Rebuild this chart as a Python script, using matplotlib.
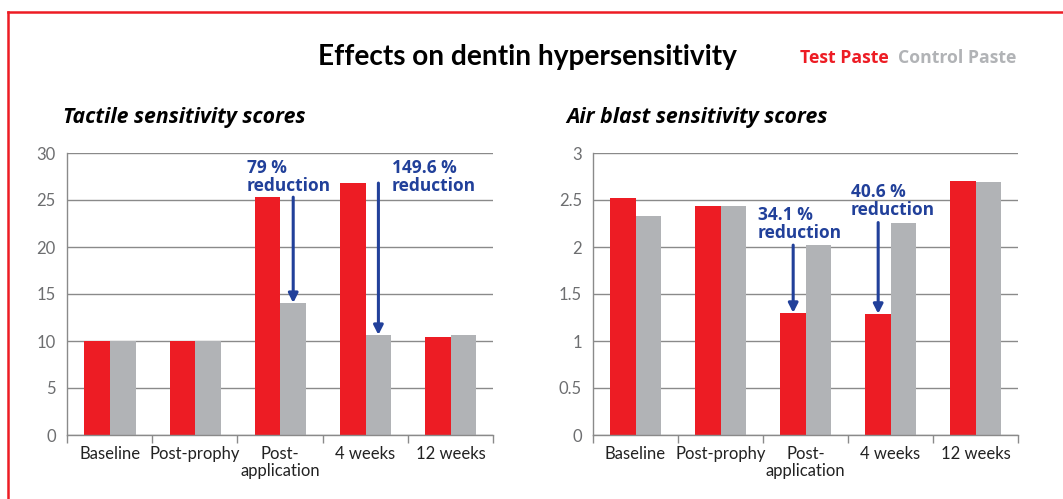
import matplotlib
matplotlib.use("Agg")
import matplotlib.pyplot as plt
import numpy as np
from matplotlib.lines import Line2D

categories = ["Baseline", "Post-prophy", "Post-\napplication", "4 weeks", "12 weeks"]
tactile_test = [10.0, 10.0, 25.3, 26.8, 10.45]
tactile_control = [10.0, 10.0, 14.05, 10.65, 10.65]
air_test = [2.52, 2.44, 1.30, 1.29, 2.70]
air_control = [2.33, 2.44, 2.02, 2.26, 2.69]
tactile_ticks = [0, 5, 10, 15, 20, 25, 30]
air_ticks = [0, 0.5, 1, 1.5, 2, 2.5, 3]
air_ticklabels = ["0", "0.5", "1", "1.5", "2", "2.5", "3"]

RED = "#ED1C24"
GRAY = "#B1B3B6"
BLUE = "#21409A"
FONT = "Lato"
WIDE = "Open Sans"

plt.rcParams['font.family'] = [FONT, 'DejaVu Sans']

W, H = 1063, 499
fig = plt.figure(figsize=(W / 100, H / 100), dpi=100)

def px_rect(x0, y0, x1, y1):
    return [x0 / W, 1 - y1 / H, (x1 - x0) / W, (y1 - y0) / H]

# red frame
fig.add_artist(Line2D([8 / W, 1], [1 - 11.5 / H, 1 - 11.5 / H], color=RED, lw=1.8, transform=fig.transFigure))
fig.add_artist(Line2D([8 / W, 8 / W], [0, 1 - 11.5 / H], color=RED, lw=1.8, transform=fig.transFigure))

fig.text(527 / W, 1 - 57 / H, "Effects on dentin hypersensitivity", ha="center", va="center",
         fontsize=20.2, fontweight="bold", color="black")
fig.text(800 / W, 1 - 58 / H, "Test Paste", ha="left", va="center", fontsize=12.7,
         fontweight="bold", color=RED, family=[WIDE, 'DejaVu Sans'])
fig.text(898 / W, 1 - 58 / H, "Control Paste", ha="left", va="center", fontsize=12.7,
         fontweight="bold", color=GRAY, family=[WIDE, 'DejaVu Sans'])


def draw(ax, test, control, ticks, ticklabels, ymax):
    x = np.arange(len(categories))
    w = 0.3
    ax.bar(x - 0.145, test, width=w, color=RED, zorder=3)
    ax.bar(x + 0.155, control, width=w, color=GRAY, zorder=3)
    ax.set_xlim(-0.5, len(categories) - 0.5)
    ax.set_ylim(0, ymax)
    ax.set_yticks(ticks)
    ax.set_yticklabels(ticklabels)
    ax.yaxis.grid(True, color="#8a8a8a", lw=1.0, zorder=0)
    ax.set_axisbelow(True)
    ax.set_xticks(x)
    ax.set_xticklabels(categories, fontsize=12, color="#222222", linespacing=1.1)
    ax.set_xticks(np.arange(len(categories) + 1) - 0.5, minor=True)
    ax.tick_params(axis="x", which="major", length=0, pad=8)
    ax.tick_params(axis="x", which="minor", length=6, color="#8a8a8a", direction="out", width=1)
    ax.tick_params(axis="y", length=0, labelsize=12, labelcolor="#6d6e70", pad=8)
    for s in ["top", "right"]:
        ax.spines[s].set_visible(False)
    for s in ["left", "bottom"]:
        ax.spines[s].set_color("#8a8a8a")
        ax.spines[s].set_linewidth(1.0)
    ax.spines["bottom"].set_zorder(4)


ax1 = fig.add_axes(px_rect(67, 153, 493, 435))
draw(ax1, tactile_test, tactile_control, tactile_ticks, [str(t) for t in tactile_ticks], 30)
ax2 = fig.add_axes(px_rect(593, 153, 1018, 435))
draw(ax2, air_test, air_control, air_ticks, air_ticklabels, 3)

fig.text(63 / W, 1 - 118 / H, "Tactile sensitivity scores", ha="left", va="center", fontsize=15.3,
         fontweight="bold", fontstyle="italic", color="black", family=[WIDE, 'DejaVu Sans'])
fig.text(566 / W, 1 - 118 / H, "Air blast sensitivity scores", ha="left", va="center", fontsize=15.3,
         fontweight="bold", fontstyle="italic", color="black", family=[WIDE, 'DejaVu Sans'])

ann_kw = dict(fontsize=12.5, fontweight="bold", color=BLUE, ha="left", va="top", linespacing=1.0,
              family=[WIDE, 'DejaVu Sans'])
arrow_kw = dict(arrowstyle="-|>,head_length=0.55,head_width=0.28", color=BLUE, lw=2.2, shrinkA=0, shrinkB=0)

# Tactile annotations
ax1.text(1.61, 29.35, "79 %\nreduction", **ann_kw)
ax1.annotate("", xy=(2 + 0.155, tactile_control[2]), xytext=(2 + 0.155, tactile_test[2]), arrowprops=arrow_kw)
ax1.text(3.31, 29.35, "149.6 %\nreduction", **ann_kw)
ax1.annotate("", xy=(3 + 0.155, tactile_control[3]), xytext=(3 + 0.155, tactile_test[3]), arrowprops=arrow_kw)

# Air blast annotations
ax2.text(1.44, 2.44, "34.1 %\nreduction", **ann_kw)
ax2.annotate("", xy=(2 - 0.145, air_test[2]), xytext=(2 - 0.145, air_control[2]), arrowprops=arrow_kw)
ax2.text(2.53, 2.68, "40.6 %\nreduction", **ann_kw)
ax2.annotate("", xy=(3 - 0.145, air_test[3]), xytext=(3 - 0.145, air_control[3]), arrowprops=arrow_kw)

fig.savefig("out.png", dpi=100)
